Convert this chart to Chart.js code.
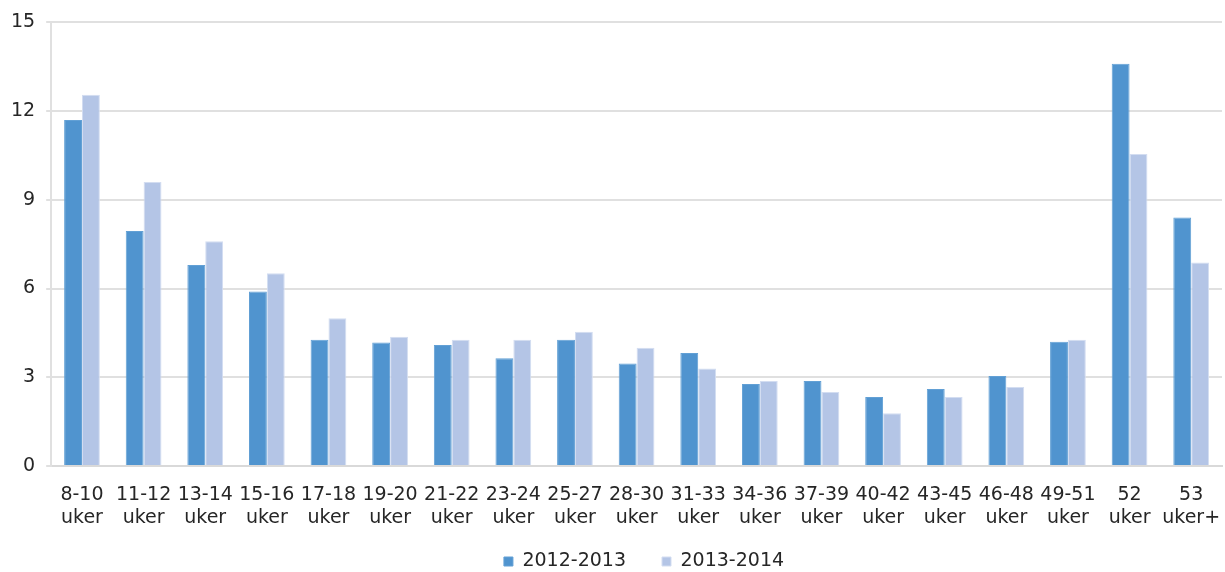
<!DOCTYPE html>
<html>
<head>
<meta charset="utf-8">
<script src="https://cdn.jsdelivr.net/npm/chart.js@4/dist/chart.umd.min.js"></script>
<style>
  html, body { margin: 0; padding: 0; background: #fff; }
  #wrap { width: 1225px; height: 572px; }
</style>
</head>
<body>
<div id="wrap"><canvas id="chart"></canvas></div>
<script>
const categories = [
  ['8-10', 'uker'], ['11-12', 'uker'], ['13-14', 'uker'], ['15-16', 'uker'],
  ['17-18', 'uker'], ['19-20', 'uker'], ['21-22', 'uker'], ['23-24', 'uker'],
  ['25-27', 'uker'], ['28-30', 'uker'], ['31-33', 'uker'], ['34-36', 'uker'],
  ['37-39', 'uker'], ['40-42', 'uker'], ['43-45', 'uker'], ['46-48', 'uker'],
  ['49-51', 'uker'], ['52', 'uker'], ['53', 'uker+']
];
const season2012 = [11.7, 7.95, 6.8, 5.9, 4.27, 4.18, 4.09, 3.64, 4.27, 3.47, 3.82, 2.77, 2.87, 2.33, 2.6, 3.04, 4.2, 13.6, 8.4];
const season2013 = [12.55, 9.6, 7.6, 6.52, 5.0, 4.37, 4.27, 4.27, 4.54, 4.0, 3.3, 2.87, 2.5, 1.78, 2.33, 2.67, 4.27, 10.55, 6.88];
const yTicks = [0, 3, 6, 9, 12, 15];

Chart.defaults.font.family = 'Verdana, "DejaVu Sans", sans-serif';
Chart.defaults.color = '#262626';

// legend sits a bit right of centre and close under the labels in the original
const moveLegend = {
  id: 'moveLegend',
  afterLayout(chart) {
    const lg = chart.legend;
    lg.left += 33;
    lg.right += 33;
    lg.top -= 14;
    lg.bottom -= 14;
  }
};

new Chart(document.getElementById('chart'), {
  type: 'bar',
  data: {
    labels: categories,
    datasets: [
      {
        label: '2012-2013',
        data: season2012,
        backgroundColor: '#5094cf',
        borderColor: '#62a0d5',
        borderWidth: 1
      },
      {
        label: '2013-2014',
        data: season2013,
        backgroundColor: '#b4c5e6',
        borderColor: '#d3ddf1',
        borderWidth: 1
      }
    ]
  },
  options: {
    responsive: true,
    maintainAspectRatio: false,
    animation: false,
    layout: { padding: { top: 14, right: 3, left: 0, bottom: -23 } },
    datasets: { bar: { categoryPercentage: 0.58, barPercentage: 1 } },
    plugins: {
      legend: {
        position: 'bottom',
        labels: { boxWidth: 9, boxHeight: 9, padding: 36, font: { size: 19 }, color: '#262626' }
      },
      tooltip: { enabled: false }
    },
    scales: {
      x: {
        grid: { display: false },
        border: { color: '#d9d9d9', width: 2 },
        ticks: { font: { size: 19, lineHeight: 1.2 }, maxRotation: 0, autoSkip: false, padding: 10 },
        afterFit: scale => {
          scale.height = 64;
          scale.paddingLeft = 0;
          scale.paddingRight = 0;
        }
      },
      y: {
        min: 0,
        max: 15,
        afterBuildTicks: axis => { axis.ticks = yTicks.map(v => ({ value: v })); },
        grid: { color: '#e0e0e0', lineWidth: 2, tickLength: 5 },
        border: { color: '#e0e0e0', width: 2 },
        ticks: { font: { size: 19 }, padding: 11 }
      }
    }
  },
  plugins: [moveLegend]
});
</script>
</body>
</html>
